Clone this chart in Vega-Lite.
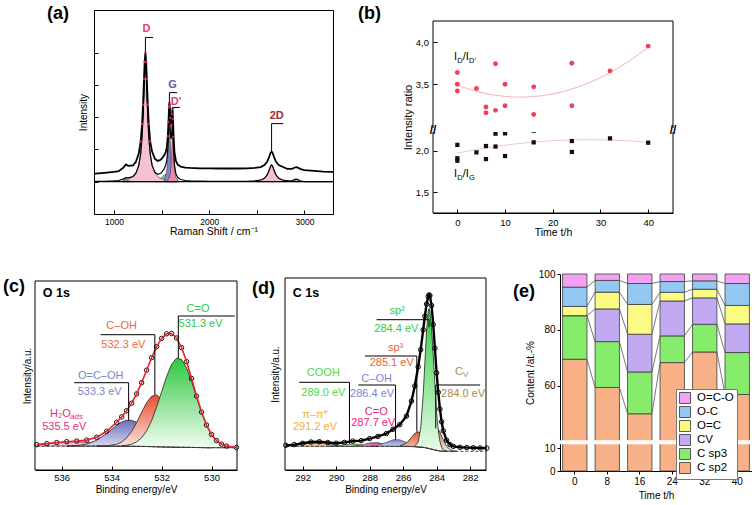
{
"padding": {"left": 3, "top": 4, "right": 0, "bottom": 0},
"background": "white",
"config": {
 "font": "Liberation Sans",
 "view": {"stroke": "black", "strokeWidth": 1},
 "axis": {"domainColor": "black", "domainWidth": 1, "tickColor": "black", "tickWidth": 1, "labelColor": "black", "titleColor": "black", "titleFontWeight": "normal", "grid": false, "labelFontSize": 9, "titleFontSize": 10},
 "title": {"fontSize": 18, "fontWeight": "bold", "anchor": "start", "frame": "group", "baseline": "alphabetic", "color": "black"},
 "text": {"font": "Liberation Sans"}
},
"datasets": {
 "raman": [
  {"x":800,"u":1.25,"l":1.01},{"x":900,"u":1.275,"l":1.015},{"x":1000,"u":1.306,"l":1.026},{"x":1050,"u":1.327,"l":1.037},{"x":1100,"u":1.439,"l":1.089},{"x":1125,"u":1.536,"l":1.126},{"x":1150,"u":1.491,"l":1.121},{"x":1200,"u":1.503,"l":1.163},{"x":1230,"u":1.616,"l":1.266},{"x":1260,"u":1.872,"l":1.502},{"x":1280,"u":2.244,"l":1.864},{"x":1295,"u":2.791,"l":2.411},{"x":1305,"u":3.389,"l":3.009},{"x":1315,"u":4.183,"l":3.803},{"x":1322,"u":4.714,"l":4.334},{"x":1330,"u":4.99,"l":4.61},{"x":1338,"u":4.715,"l":4.335},{"x":1345,"u":4.185,"l":3.805},{"x":1355,"u":3.393,"l":3.013},{"x":1365,"u":2.796,"l":2.416},{"x":1380,"u":2.252,"l":1.872},{"x":1400,"u":1.933,"l":1.513},{"x":1430,"u":1.71,"l":1.29},{"x":1460,"u":1.646,"l":1.226},{"x":1490,"u":1.681,"l":1.261},{"x":1510,"u":1.746,"l":1.326},{"x":1530,"u":1.837,"l":1.417},{"x":1545,"u":1.929,"l":1.529},{"x":1555,"u":2.079,"l":1.679},{"x":1565,"u":2.406,"l":2.006},{"x":1572,"u":2.85,"l":2.45},{"x":1578,"u":3.307,"l":2.907},{"x":1582,"u":3.451,"l":3.051},{"x":1586,"u":3.349,"l":2.949},{"x":1592,"u":2.974,"l":2.574},{"x":1598,"u":2.729,"l":2.329},{"x":1604,"u":2.77,"l":2.37},{"x":1610,"u":3.096,"l":2.696},{"x":1615,"u":3.259,"l":2.859},{"x":1620,"u":2.934,"l":2.534},{"x":1626,"u":2.382,"l":1.982},{"x":1635,"u":1.919,"l":1.519},{"x":1650,"u":1.646,"l":1.246},{"x":1670,"u":1.529,"l":1.129},{"x":1700,"u":1.469,"l":1.069},{"x":1750,"u":1.438,"l":1.038},{"x":1800,"u":1.426,"l":1.026},{"x":1900,"u":1.416,"l":1.016},{"x":2000,"u":1.412,"l":1.012},{"x":2100,"u":1.41,"l":1.01},{"x":2200,"u":1.409,"l":1.009},{"x":2300,"u":1.41,"l":1.01},{"x":2400,"u":1.415,"l":1.015},{"x":2480,"u":1.426,"l":1.026},{"x":2540,"u":1.454,"l":1.054},{"x":2580,"u":1.517,"l":1.107},{"x":2610,"u":1.627,"l":1.217},{"x":2630,"u":1.774,"l":1.364},{"x":2645,"u":1.897,"l":1.487},{"x":2655,"u":1.931,"l":1.521},{"x":2665,"u":1.897,"l":1.487},{"x":2680,"u":1.774,"l":1.364},{"x":2700,"u":1.627,"l":1.217},{"x":2730,"u":1.517,"l":1.107},{"x":2770,"u":1.462,"l":1.052},{"x":2820,"u":1.397,"l":1.027},{"x":2870,"u":1.4,"l":1.03},{"x":2900,"u":1.441,"l":1.071},{"x":2915,"u":1.451,"l":1.081},{"x":2930,"u":1.438,"l":1.068},{"x":2960,"u":1.392,"l":1.022},{"x":3000,"u":1.356,"l":1.006},{"x":3100,"u":1.334,"l":1.004},{"x":3200,"u":1.313,"l":1.003},{"x":3300,"u":1.302,"l":1.002}
 ],
 "ramanPeaks": [
  {"p":"Gr","x":1430,"v":1.008},{"p":"Gr","x":1460,"v":1.037},{"p":"Gr","x":1490,"v":1.104},{"p":"Gr","x":1510,"v":1.163},{"p":"Gr","x":1530,"v":1.208},{"p":"Gr","x":1545,"v":1.22},{"p":"Gr","x":1555,"v":1.215},{"p":"Gr","x":1565,"v":1.199},{"p":"Gr","x":1578,"v":1.168},{"p":"Gr","x":1592,"v":1.128},{"p":"Gr","x":1604,"v":1.093},{"p":"Gr","x":1615,"v":1.066},{"p":"Gr","x":1635,"v":1.03},{"p":"Gr","x":1650,"v":1.015},{"p":"Gr","x":1670,"v":1.005},
  {"p":"D","x":1100,"v":1.053},{"p":"D","x":1150,"v":1.085},{"p":"D","x":1200,"v":1.159},{"p":"D","x":1230,"v":1.262},{"p":"D","x":1260,"v":1.497},{"p":"D","x":1280,"v":1.859},{"p":"D","x":1295,"v":2.405},{"p":"D","x":1305,"v":3.003},{"p":"D","x":1315,"v":3.797},{"p":"D","x":1322,"v":4.328},{"p":"D","x":1330,"v":4.6},{"p":"D","x":1338,"v":4.328},{"p":"D","x":1345,"v":3.797},{"p":"D","x":1355,"v":3.003},{"p":"D","x":1365,"v":2.405},{"p":"D","x":1380,"v":1.859},{"p":"D","x":1400,"v":1.497},{"p":"D","x":1430,"v":1.262},{"p":"D","x":1460,"v":1.159},{"p":"D","x":1490,"v":1.107},{"p":"D","x":1530,"v":1.069},{"p":"D","x":1560,"v":1.05},
  {"p":"G","x":1530,"v":1.115},{"p":"G","x":1545,"v":1.213},{"p":"G","x":1555,"v":1.36},{"p":"G","x":1565,"v":1.687},{"p":"G","x":1572,"v":2.126},{"p":"G","x":1578,"v":2.572},{"p":"G","x":1582,"v":2.7},{"p":"G","x":1586,"v":2.572},{"p":"G","x":1592,"v":2.126},{"p":"G","x":1598,"v":1.737},{"p":"G","x":1604,"v":1.49},{"p":"G","x":1610,"v":1.34},{"p":"G","x":1620,"v":1.203},{"p":"G","x":1635,"v":1.111},{"p":"G","x":1650,"v":1.069},
  {"p":"Dp","x":1565,"v":1.069},{"p":"Dp","x":1578,"v":1.122},{"p":"Dp","x":1586,"v":1.189},{"p":"Dp","x":1592,"v":1.279},{"p":"Dp","x":1598,"v":1.443},{"p":"Dp","x":1604,"v":1.75},{"p":"Dp","x":1610,"v":2.243},{"p":"Dp","x":1615,"v":2.5},{"p":"Dp","x":1620,"v":2.243},{"p":"Dp","x":1626,"v":1.75},{"p":"Dp","x":1635,"v":1.348},{"p":"Dp","x":1650,"v":1.135},{"p":"Dp","x":1670,"v":1.058},
  {"p":"2D","x":2480,"v":1.023},{"p":"2D","x":2540,"v":1.051},{"p":"2D","x":2580,"v":1.106},{"p":"2D","x":2610,"v":1.216},{"p":"2D","x":2630,"v":1.363},{"p":"2D","x":2645,"v":1.486},{"p":"2D","x":2655,"v":1.52},{"p":"2D","x":2665,"v":1.486},{"p":"2D","x":2680,"v":1.363},{"p":"2D","x":2700,"v":1.216},{"p":"2D","x":2730,"v":1.106},{"p":"2D","x":2770,"v":1.051},{"p":"2D","x":2830,"v":1.023},
  {"p":"b1","x":1075,"v":1.005},{"p":"b1","x":1100,"v":1.036},{"p":"b1","x":1125,"v":1.06},{"p":"b1","x":1150,"v":1.036},{"p":"b1","x":1175,"v":1.005},
  {"p":"b2","x":2865,"v":1.008},{"p":"b2","x":2890,"v":1.042},{"p":"b2","x":2915,"v":1.07},{"p":"b2","x":2940,"v":1.042},{"p":"b2","x":2965,"v":1.008}
 ],
 "ramanBr": [{"x":1330,"y0":4.99,"y1":5.47,"xe":1411},{"x":1582,"y0":3.45,"y1":3.76,"xe":1663},{"x":1615,"y0":3.26,"y1":3.3,"xe":1692},{"x":2655,"y0":1.93,"y1":2.8,"xe":2779}],
 "ramanLab": [{"lab":"D","x":1341,"y":5.74},{"lab":"G","x":1615,"y":4.0},{"lab":"D'","x":1651,"y":3.47},{"lab":"2D","x":2709,"y":3.04}],
 "rDDp": [{"t":0,"r":3.64},{"t":0,"r":3.5},{"t":0,"r":3.42},{"t":4,"r":3.45},{"t":6,"r":3.23},{"t":6,"r":3.16},{"t":8,"r":3.745},{"t":8,"r":3.19},{"t":10,"r":3.5},{"t":10,"r":3.245},{"t":16,"r":3.47},{"t":16,"r":3.14},{"t":24,"r":3.75},{"t":24,"r":3.245},{"t":32,"r":3.66},{"t":40,"r":3.955}],
 "rDG": [{"t":0,"r":2.07},{"t":0,"r":1.91},{"t":0,"r":1.88},{"t":4,"r":1.98},{"t":6,"r":2.056},{"t":6,"r":1.9},{"t":8,"r":2.204},{"t":8,"r":2.05},{"t":10,"r":2.208},{"t":10,"r":1.936},{"t":16,"r":2.24},{"t":16,"r":2.1},{"t":24,"r":2.116},{"t":24,"r":1.985},{"t":32,"r":2.148},{"t":40,"r":2.096}],
 "fDDp": [{"t":0,"r":3.49},{"t":2,"r":3.45},{"t":4,"r":3.417},{"t":6,"r":3.389},{"t":8,"r":3.369},{"t":10,"r":3.356},{"t":12,"r":3.348},{"t":14,"r":3.348},{"t":16,"r":3.354},{"t":18,"r":3.366},{"t":20,"r":3.386},{"t":22,"r":3.411},{"t":24,"r":3.444},{"t":26,"r":3.483},{"t":28,"r":3.528},{"t":30,"r":3.58},{"t":32,"r":3.639},{"t":34,"r":3.704},{"t":36,"r":3.776},{"t":38,"r":3.855},{"t":40,"r":3.94}],
 "fDG": [{"t":0,"r":1.97},{"t":4,"r":2.014},{"t":8,"r":2.05},{"t":12,"r":2.08},{"t":16,"r":2.104},{"t":20,"r":2.12},{"t":24,"r":2.13},{"t":28,"r":2.132},{"t":32,"r":2.128},{"t":36,"r":2.118},{"t":40,"r":2.1}],
 "o1s": [
  {"e":537.0,"env":3.06,"bg":1.6},{"e":536.6,"env":4.06,"bg":1.6},{"e":536.2,"env":5.14,"bg":1.6},{"e":535.8,"env":6.0,"bg":1.6},{"e":535.4,"env":6.6,"bg":1.6},{"e":535.0,"env":7.56,"bg":1.6},{"e":534.6,"env":10.42,"bg":1.6},{"e":534.2,"env":16.46,"bg":1.6},{"e":533.8,"env":25.4,"bg":1.6},{"e":533.6,"env":30.8,"bg":1.6},{"e":533.4,"env":37.0,"bg":1.6},{"e":533.2,"env":44.5,"bg":1.5},{"e":533.0,"env":53.8,"bg":1.4},{"e":532.8,"env":65.0,"bg":1.3},{"e":532.6,"env":77.5,"bg":1.2},{"e":532.4,"env":90.0,"bg":1.1},{"e":532.2,"env":101.1,"bg":1.0},{"e":532.0,"env":109.3,"bg":0.9},{"e":531.8,"env":113.9,"bg":0.8},{"e":531.6,"env":114.2,"bg":0.7},{"e":531.4,"env":109.7,"bg":0.6},{"e":531.2,"env":100.1,"bg":0.5},{"e":531.0,"env":86.1,"bg":0.4},{"e":530.8,"env":69.2,"bg":0.3},{"e":530.6,"env":51.6,"bg":0.2},{"e":530.4,"env":35.65,"bg":0.1},{"e":530.2,"env":22.65,"bg":0},{"e":530.0,"env":13.25,"bg":0},{"e":529.8,"env":7.1,"bg":0},{"e":529.6,"env":3.5,"bg":0},{"e":529.4,"env":1.6,"bg":0},{"e":529.0,"env":0.25,"bg":0}
 ],
 "o1sComp": [
  {"c":"H2O","e":537.0,"b":1.6,"v":3.06},{"c":"H2O","e":536.6,"b":1.6,"v":4.06},{"c":"H2O","e":536.2,"b":1.6,"v":5.12},{"c":"H2O","e":535.8,"b":1.6,"v":5.9},{"c":"H2O","e":535.4,"b":1.6,"v":6.08},{"c":"H2O","e":535.0,"b":1.6,"v":5.57},{"c":"H2O","e":534.6,"b":1.6,"v":4.6},{"c":"H2O","e":534.2,"b":1.6,"v":3.54},{"c":"H2O","e":533.8,"b":1.6,"v":2.66},{"c":"H2O","e":533.4,"b":1.6,"v":2.1},{"c":"H2O","e":533.0,"b":1.4,"v":1.6},
  {"c":"OCOH","e":535.8,"b":1.6,"v":1.7},{"c":"OCOH","e":535.4,"b":1.6,"v":2.12},{"c":"OCOH","e":535.0,"b":1.6,"v":3.59},{"c":"OCOH","e":534.6,"b":1.6,"v":7.39},{"c":"OCOH","e":534.2,"b":1.6,"v":14.26},{"c":"OCOH","e":533.8,"b":1.6,"v":22.4},{"c":"OCOH","e":533.6,"b":1.6,"v":25.6},{"c":"OCOH","e":533.4,"b":1.6,"v":27.4},{"c":"OCOH","e":533.2,"b":1.5,"v":27.3},{"c":"OCOH","e":533.0,"b":1.4,"v":25.4},{"c":"OCOH","e":532.8,"b":1.3,"v":22.1},{"c":"OCOH","e":532.6,"b":1.2,"v":18.0},{"c":"OCOH","e":532.4,"b":1.1,"v":13.76},{"c":"OCOH","e":532.2,"b":1.0,"v":9.87},{"c":"OCOH","e":532.0,"b":0.9,"v":6.69},{"c":"OCOH","e":531.8,"b":0.8,"v":4.31},{"c":"OCOH","e":531.6,"b":0.7,"v":2.69},{"c":"OCOH","e":531.4,"b":0.6,"v":1.65},{"c":"OCOH","e":531.2,"b":0.5,"v":1.02},{"c":"OCOH","e":531.0,"b":0.4,"v":0.64},
  {"c":"COH","e":534.6,"b":1.6,"v":1.63},{"c":"COH","e":534.2,"b":1.6,"v":1.86},{"c":"COH","e":533.8,"b":1.6,"v":3.45},{"c":"COH","e":533.6,"b":1.6,"v":5.73},{"c":"COH","e":533.4,"b":1.6,"v":9.86},{"c":"COH","e":533.2,"b":1.5,"v":16.35},{"c":"COH","e":533.0,"b":1.4,"v":25.2},{"c":"COH","e":532.8,"b":1.3,"v":35.4},{"c":"COH","e":532.6,"b":1.2,"v":45.0},{"c":"COH","e":532.4,"b":1.1,"v":51.4},{"c":"COH","e":532.2,"b":1.0,"v":52.75},{"c":"COH","e":532.0,"b":0.9,"v":48.5},{"c":"COH","e":531.8,"b":0.8,"v":40.0},{"c":"COH","e":531.6,"b":0.7,"v":29.6},{"c":"COH","e":531.4,"b":0.6,"v":19.7},{"c":"COH","e":531.2,"b":0.5,"v":11.75},{"c":"COH","e":531.0,"b":0.4,"v":6.32},{"c":"COH","e":530.8,"b":0.3,"v":3.09},{"c":"COH","e":530.6,"b":0.2,"v":1.39},{"c":"COH","e":530.4,"b":0.1,"v":0.55},{"c":"COH","e":530.2,"b":0,"v":0.15},{"c":"COH","e":530.0,"b":0,"v":0.05},
  {"c":"CO","e":533.6,"b":1.6,"v":1.95},{"c":"CO","e":533.4,"b":1.6,"v":2.47},{"c":"CO","e":533.2,"b":1.5,"v":3.54},{"c":"CO","e":533.0,"b":1.4,"v":5.78},{"c":"CO","e":532.8,"b":1.3,"v":9.94},{"c":"CO","e":532.6,"b":1.2,"v":16.8},{"c":"CO","e":532.4,"b":1.1,"v":27.0},{"c":"CO","e":532.2,"b":1.0,"v":40.5},{"c":"CO","e":532.0,"b":0.9,"v":55.9},{"c":"CO","e":531.8,"b":0.8,"v":71.2},{"c":"CO","e":531.6,"b":0.7,"v":83.3},{"c":"CO","e":531.4,"b":0.6,"v":89.5},{"c":"CO","e":531.2,"b":0.5,"v":88.3},{"c":"CO","e":531.0,"b":0.4,"v":79.9},{"c":"CO","e":530.8,"b":0.3,"v":66.3},{"c":"CO","e":530.6,"b":0.2,"v":50.4},{"c":"CO","e":530.4,"b":0.1,"v":35.2},{"c":"CO","e":530.2,"b":0,"v":22.5},{"c":"CO","e":530.0,"b":0,"v":13.2},{"c":"CO","e":529.8,"b":0,"v":7.1},{"c":"CO","e":529.6,"b":0,"v":3.5},{"c":"CO","e":529.4,"b":0,"v":1.6},{"c":"CO","e":529.0,"b":0,"v":0.25}
 ],
 "o1sBr": [{"e":531.33,"y0":89.5,"y1":131.7,"ee":529.07},{"e":532.27,"y0":52.8,"y1":113,"ee":534.44},{"e":533.32,"y0":27.4,"y1":65,"ee":535.5}],
 "o1sLab": [{"t":"C=O","e":530.54,"y":138.4,"k":"CO"},{"t":"531.3 eV","e":530.44,"y":123.4,"k":"CO"},{"t":"C–OH","e":533.6,"y":121.5,"k":"COH"},{"t":"532.3 eV","e":533.53,"y":102.5,"k":"COH"},{"t":"O=C–OH","e":534.44,"y":71.3,"k":"OCOH"},{"t":"533.3 eV","e":534.48,"y":56,"k":"OCOH"},{"t":"535.5 eV","e":535.9,"y":21,"k":"H2O"}],
 "c1s": [
  {"e":293.0,"env":5.97,"bg":5},{"e":292.5,"env":6.71,"bg":5},{"e":292.0,"env":8.0,"bg":5},{"e":291.5,"env":9.27,"bg":5},{"e":291.0,"env":9.56,"bg":5},{"e":290.5,"env":8.78,"bg":5},{"e":290.0,"env":8.11,"bg":5},{"e":289.5,"env":8.9,"bg":5},{"e":289.0,"env":10.21,"bg":5},{"e":288.5,"env":10.7,"bg":5},{"e":288.0,"env":12.68,"bg":5},{"e":287.5,"env":14.89,"bg":5},{"e":287.0,"env":17.71,"bg":5},{"e":286.6,"env":22.02,"bg":5},{"e":286.2,"env":26.63,"bg":5},{"e":285.8,"env":35.21,"bg":5},{"e":285.5,"env":50.24,"bg":4.8},{"e":285.3,"env":65.37,"bg":4.6},{"e":285.1,"env":84.49,"bg":4.5},{"e":284.95,"env":101.57,"bg":4.2},{"e":284.8,"env":121.5,"bg":4.0},{"e":284.7,"env":135.07,"bg":3.7},{"e":284.6,"env":147.14,"bg":3.4},{"e":284.5,"env":154.79,"bg":3.0},{"e":284.45,"env":156.42,"bg":2.8},{"e":284.4,"env":155.7,"bg":2.6},{"e":284.3,"env":145.73,"bg":2.2},{"e":284.2,"env":126.79,"bg":1.8},{"e":284.1,"env":102.96,"bg":1.4},{"e":284.0,"env":78.54,"bg":1.0},{"e":283.9,"env":58.9,"bg":0.7},{"e":283.8,"env":42.3,"bg":0.4},{"e":283.7,"env":29.5,"bg":0.2},{"e":283.6,"env":20.5,"bg":0},{"e":283.4,"env":11.0,"bg":0},{"e":283.2,"env":6.7,"bg":0},{"e":283.0,"env":4.9,"bg":0},{"e":282.6,"env":4.0,"bg":0},{"e":282.2,"env":3.7,"bg":0},{"e":281.8,"env":3.5,"bg":0},{"e":281.4,"env":3.3,"bg":0},{"e":281.0,"env":3.2,"bg":0}
 ],
 "c1sComp": [
  {"c":"pi","e":293.0,"b":5,"v":5.28},{"c":"pi","e":292.5,"b":5,"v":5.94},{"c":"pi","e":292.0,"b":5,"v":7.12},{"c":"pi","e":291.5,"b":5,"v":8.26},{"c":"pi","e":291.0,"b":5,"v":8.39},{"c":"pi","e":290.5,"b":5,"v":7.39},{"c":"pi","e":290.0,"b":5,"v":6.14},{"c":"pi","e":289.5,"b":5,"v":5.37},{"c":"pi","e":289.0,"b":5,"v":5.08},
  {"c":"COOH","e":290.5,"b":5,"v":5.03},{"c":"COOH","e":290.0,"b":5,"v":5.35},{"c":"COOH","e":289.5,"b":5,"v":6.58},{"c":"COOH","e":289.0,"b":5,"v":7.6},{"c":"COOH","e":288.5,"b":5,"v":6.58},{"c":"COOH","e":288.0,"b":5,"v":5.35},{"c":"COOH","e":287.5,"b":5,"v":5.03},
  {"c":"CO","e":289.0,"b":5,"v":5.14},{"c":"CO","e":288.5,"b":5,"v":6.11},{"c":"CO","e":288.0,"b":5,"v":8.34},{"c":"CO","e":287.5,"b":5,"v":8.69},{"c":"CO","e":287.0,"b":5,"v":6.5},{"c":"CO","e":286.6,"b":5,"v":5.36},{"c":"CO","e":286.2,"b":5,"v":5.04},
  {"c":"COH","e":288.0,"b":5,"v":5.1},{"c":"COH","e":287.5,"b":5,"v":5.95},{"c":"COH","e":287.0,"b":5,"v":8.86},{"c":"COH","e":286.6,"b":5,"v":11.55},{"c":"COH","e":286.2,"b":5,"v":11.55},{"c":"COH","e":285.8,"b":5,"v":8.86},{"c":"COH","e":285.5,"b":4.8,"v":6.64},{"c":"COH","e":285.3,"b":4.6,"v":5.55},{"c":"COH","e":285.1,"b":4.5,"v":4.93},{"c":"COH","e":284.8,"b":4.0,"v":4.1},
  {"c":"sp3","e":286.2,"b":5,"v":5.34},{"c":"sp3","e":285.8,"b":5,"v":8.25},{"c":"sp3","e":285.5,"b":4.8,"v":13.9},{"c":"sp3","e":285.3,"b":4.6,"v":17.8},{"c":"sp3","e":285.1,"b":4.5,"v":19.5},{"c":"sp3","e":284.95,"b":4.2,"v":18.2},{"c":"sp3","e":284.8,"b":4.0,"v":15.3},{"c":"sp3","e":284.7,"b":3.7,"v":12.8},{"c":"sp3","e":284.6,"b":3.4,"v":10.27},{"c":"sp3","e":284.5,"b":3.0,"v":7.87},{"c":"sp3","e":284.4,"b":2.6,"v":5.85},{"c":"sp3","e":284.3,"b":2.2,"v":4.23},{"c":"sp3","e":284.2,"b":1.8,"v":2.99},{"c":"sp3","e":284.1,"b":1.4,"v":2.06},{"c":"sp3","e":284.0,"b":1.0,"v":1.34},{"c":"sp3","e":283.9,"b":0.7,"v":0.87},{"c":"sp3","e":283.8,"b":0.4,"v":0.48},
  {"c":"Cv","e":285.1,"b":4.5,"v":4.66},{"c":"Cv","e":284.95,"b":4.2,"v":4.75},{"c":"Cv","e":284.8,"b":4.0,"v":5.61},{"c":"Cv","e":284.7,"b":3.7,"v":6.67},{"c":"Cv","e":284.6,"b":3.4,"v":8.47},{"c":"Cv","e":284.5,"b":3.0,"v":10.92},{"c":"Cv","e":284.4,"b":2.6,"v":14.05},{"c":"Cv","e":284.3,"b":2.2,"v":17.4},{"c":"Cv","e":284.2,"b":1.8,"v":20.5},{"c":"Cv","e":284.1,"b":1.4,"v":22.5},{"c":"Cv","e":284.0,"b":1.0,"v":23.0},{"c":"Cv","e":283.9,"b":0.7,"v":21.8},{"c":"Cv","e":283.8,"b":0.4,"v":19.1},{"c":"Cv","e":283.7,"b":0.2,"v":15.4},{"c":"Cv","e":283.6,"b":0,"v":11.45},{"c":"Cv","e":283.4,"b":0,"v":5.07},{"c":"Cv","e":283.2,"b":0,"v":1.61},{"c":"Cv","e":283.0,"b":0,"v":0.37},{"c":"Cv","e":282.8,"b":0,"v":0.05},
  {"c":"sp2","e":285.3,"b":4.6,"v":5.0},{"c":"sp2","e":285.1,"b":4.5,"v":9.3},{"c":"sp2","e":284.95,"b":4.2,"v":23.1},{"c":"sp2","e":284.8,"b":4.0,"v":56.5},{"c":"sp2","e":284.7,"b":3.7,"v":88.7},{"c":"sp2","e":284.6,"b":3.4,"v":120.3},{"c":"sp2","e":284.5,"b":3.0,"v":140.2},{"c":"sp2","e":284.45,"b":2.8,"v":142.8},{"c":"sp2","e":284.4,"b":2.6,"v":140.4},{"c":"sp2","e":284.3,"b":2.2,"v":123.6},{"c":"sp2","e":284.2,"b":1.8,"v":95.8},{"c":"sp2","e":284.1,"b":1.4,"v":65.6},{"c":"sp2","e":284.0,"b":1.0,"v":39.5},{"c":"sp2","e":283.9,"b":0.7,"v":21.1},{"c":"sp2","e":283.8,"b":0.4,"v":9.9},{"c":"sp2","e":283.7,"b":0.2,"v":4.1},{"c":"sp2","e":283.6,"b":0,"v":1.4},{"c":"sp2","e":283.4,"b":0,"v":0.1}
 ],
 "c1sBr": [{"e":284.45,"y0":124,"y1":131.6,"ee":287.58},{"e":285.18,"y0":19.5,"y1":95.3,"ee":288.27},{"e":286.45,"y0":11.6,"y1":66.3,"ee":288.67},{"e":289.2,"y0":7.6,"y1":69,"ee":292.2},{"e":284.05,"y0":23,"y1":66.3,"ee":281.4}],
 "c1sLab": [{"t":"sp²","e":286.35,"y":140,"k":"sp2"},{"t":"284.4 eV","e":286.4,"y":122,"k":"sp2"},{"t":"sp³","e":286.45,"y":103,"k":"sp3"},{"t":"285.1 eV","e":286.68,"y":88,"k":"sp3"},{"t":"C–OH","e":287.58,"y":72,"k":"COH"},{"t":"286.4 eV","e":287.85,"y":57.3,"k":"COH"},{"t":"COOH","e":290.76,"y":78,"k":"COOH"},{"t":"289.0 eV","e":290.76,"y":58,"k":"COOH"},{"t":"C=O","e":287.6,"y":39.6,"k":"CO"},{"t":"287.7 eV","e":287.78,"y":28,"k":"CO"},{"t":"π–π*","e":291.26,"y":36.3,"k":"pi"},{"t":"291.2 eV","e":291.26,"y":24,"k":"pi"},{"t":"284.0 eV","e":282.42,"y":57.3,"k":"Cv"}],
 "xps": [
  {"t":0,"comp":"C sp2","v":69.5,"k":1},{"t":0,"comp":"C sp3","v":15.6,"k":2},{"t":0,"comp":"CV","v":0,"k":3},{"t":0,"comp":"O=C","v":3.3,"k":4},{"t":0,"comp":"O-C","v":6.9,"k":5},{"t":0,"comp":"O=C-O","v":4.7,"k":6},
  {"t":8,"comp":"C sp2","v":59.4,"k":1},{"t":8,"comp":"C sp3","v":16.4,"k":2},{"t":8,"comp":"CV","v":11.7,"k":3},{"t":8,"comp":"O=C","v":6.0,"k":4},{"t":8,"comp":"O-C","v":4.2,"k":5},{"t":8,"comp":"O=C-O","v":2.3,"k":6},
  {"t":16,"comp":"C sp2","v":50.0,"k":1},{"t":16,"comp":"C sp3","v":14.95,"k":2},{"t":16,"comp":"CV","v":13.5,"k":3},{"t":16,"comp":"O=C","v":10.65,"k":4},{"t":16,"comp":"O-C","v":7.5,"k":5},{"t":16,"comp":"O=C-O","v":3.4,"k":6},
  {"t":24,"comp":"C sp2","v":68.3,"k":1},{"t":24,"comp":"C sp3","v":9.55,"k":2},{"t":24,"comp":"CV","v":12.5,"k":3},{"t":24,"comp":"O=C","v":3.1,"k":4},{"t":24,"comp":"O-C","v":3.85,"k":5},{"t":24,"comp":"O=C-O","v":2.7,"k":6},
  {"t":32,"comp":"C sp2","v":72.1,"k":1},{"t":32,"comp":"C sp3","v":9.9,"k":2},{"t":32,"comp":"CV","v":9.45,"k":3},{"t":32,"comp":"O=C","v":3.1,"k":4},{"t":32,"comp":"O-C","v":3.0,"k":5},{"t":32,"comp":"O=C-O","v":2.45,"k":6},
  {"t":40,"comp":"C sp2","v":56.9,"k":1},{"t":40,"comp":"C sp3","v":15.0,"k":2},{"t":40,"comp":"CV","v":10.25,"k":3},{"t":40,"comp":"O=C","v":6.6,"k":4},{"t":40,"comp":"O-C","v":7.85,"k":5},{"t":40,"comp":"O=C-O","v":3.4,"k":6}
 ],
 "xpsLinks": [
  {"t0":0,"t1":8,"y0":69.5,"y1":59.4},{"t0":0,"t1":8,"y0":85.1,"y1":75.8},{"t0":0,"t1":8,"y0":85.1,"y1":87.5},{"t0":0,"t1":8,"y0":88.4,"y1":93.5},{"t0":0,"t1":8,"y0":95.3,"y1":97.7},
  {"t0":8,"t1":16,"y0":59.4,"y1":50.0},{"t0":8,"t1":16,"y0":75.8,"y1":64.95},{"t0":8,"t1":16,"y0":87.5,"y1":78.45},{"t0":8,"t1":16,"y0":93.5,"y1":89.1},{"t0":8,"t1":16,"y0":97.7,"y1":96.6},
  {"t0":16,"t1":24,"y0":50.0,"y1":68.3},{"t0":16,"t1":24,"y0":64.95,"y1":77.85},{"t0":16,"t1":24,"y0":78.45,"y1":90.35},{"t0":16,"t1":24,"y0":89.1,"y1":93.45},{"t0":16,"t1":24,"y0":96.6,"y1":97.3},
  {"t0":24,"t1":32,"y0":68.3,"y1":72.1},{"t0":24,"t1":32,"y0":77.85,"y1":82.0},{"t0":24,"t1":32,"y0":90.35,"y1":91.45},{"t0":24,"t1":32,"y0":93.45,"y1":94.55},{"t0":24,"t1":32,"y0":97.3,"y1":97.55},
  {"t0":32,"t1":40,"y0":72.1,"y1":56.9},{"t0":32,"t1":40,"y0":82.0,"y1":71.9},{"t0":32,"t1":40,"y0":91.45,"y1":82.15},{"t0":32,"t1":40,"y0":94.55,"y1":88.75},{"t0":32,"t1":40,"y0":97.55,"y1":96.6}
 ]
},
"resolve": {"scale": {"color": "independent"}},
"spacing": 30,
"vconcat": [
 {"hconcat": [
  {"data": {"values": [{}]}, "mark": {"type": "text", "text": ""}, "width": 59, "height": 1, "view": {"stroke": null}},
  {"width": 239, "height": 204,
   "title": {"text": "(a)", "dx": -47, "offset": -13},
   "resolve": {"scale": {"color": "independent"}},
   "layer": [
    {"data": {"name": "ramanPeaks"}, "mark": {"type": "area", "stroke": "#333", "strokeWidth": 0.6},
     "encoding": {
      "x": {"field": "x", "type": "quantitative", "scale": {"domain": [790, 3300], "nice": false, "zero": false}, "axis": {"values": [1000,1500,2000,2500,3000], "labelExpr": "datum.value % 1000 == 0 ? datum.label : ''", "format": "d", "title": "Raman Shift / cm⁻¹", "tickSize": -4, "labelPadding": 7, "labelFontSize": 8.5, "titleFontSize": 10.5, "titlePadding": 1}},
      "y": {"field": "v", "type": "quantitative", "stack": null, "scale": {"domain": [0, 6.32], "nice": false, "zero": false}, "axis": {"values": [1,2,3,4,5], "labels": false, "tickSize": -4, "title": "Intensity", "titlePadding": 5, "titleFontSize": 10}},
      "y2": {"datum": 1},
      "color": {"field": "p", "type": "nominal", "scale": {"domain": ["Gr","D","G","Dp","2D","b1","b2"], "range": ["#8ee28a","#f6c2cf","#7f86d6","#ee88a6","#f4c0cb","#d8b48c","#d8b48c"]}, "legend": null}
     }},
    {"data": {"name": "raman"}, "mark": {"type": "line", "color": "black", "strokeWidth": 1.2},
     "encoding": {"x": {"field": "x", "type": "quantitative"}, "y": {"field": "l", "type": "quantitative"}}},
    {"data": {"name": "raman"}, "mark": {"type": "line", "color": "black", "strokeWidth": 1.8},
     "encoding": {"x": {"field": "x", "type": "quantitative"}, "y": {"field": "u", "type": "quantitative"}}},
    {"data": {"name": "raman"}, "transform": [{"filter": "(datum.x >= 1280 && datum.x <= 1380) || (datum.x >= 1565 && datum.x <= 1626)"}], "mark": {"type": "circle", "color": "#e8336e", "size": 6, "opacity": 0.8},
     "encoding": {"x": {"field": "x", "type": "quantitative"}, "y": {"field": "u", "type": "quantitative"}}},
    {"data": {"values": [{}]}, "mark": {"type": "rule", "color": "black", "strokeWidth": 1.2},
     "encoding": {"y": {"datum": 1, "type": "quantitative"}}},
    {"data": {"name": "ramanBr"}, "mark": {"type": "rule", "color": "black", "strokeWidth": 1},
     "encoding": {"x": {"field": "x", "type": "quantitative"}, "y": {"field": "y0", "type": "quantitative"}, "y2": {"field": "y1"}}},
    {"data": {"name": "ramanBr"}, "mark": {"type": "rule", "color": "black", "strokeWidth": 1},
     "encoding": {"x": {"field": "x", "type": "quantitative"}, "x2": {"field": "xe"}, "y": {"field": "y1", "type": "quantitative"}}},
    {"data": {"name": "ramanLab"}, "mark": {"type": "text", "fontSize": 11, "fontWeight": "bold", "align": "center", "baseline": "middle"},
     "encoding": {"x": {"field": "x", "type": "quantitative"}, "y": {"field": "y", "type": "quantitative"}, "text": {"field": "lab"},
      "color": {"field": "lab", "type": "nominal", "scale": {"domain": ["D","G","D'","2D"], "range": ["#ec3a72","#5a5ea8","#e0407a","#a02a40"]}, "legend": null}}}
   ]},
  {"data": {"values": [{}]}, "mark": {"type": "text", "text": ""}, "width": 100, "height": 1, "view": {"stroke": null}},
  {"width": 240, "height": 203,
   "view": {"stroke": null},
   "title": {"text": "(b)", "dx": -75, "offset": -13},
   "layer": [
    {"data": {"name": "fDDp"}, "mark": {"type": "line", "color": "#f4b2bf", "strokeWidth": 1},
     "encoding": {
      "x": {"field": "t", "type": "quantitative", "scale": {"domain": [-5.1, 45.2], "nice": false, "zero": false}, "axis": {"values": [0,5,10,15,20,25,30,35,40], "labelExpr": "datum.value % 10 == 0 ? datum.label : ''", "title": "Time t/h", "tickSize": -4, "labelPadding": 8, "labelFontSize": 9.5, "titleFontSize": 10.5, "titlePadding": 1}},
      "y": {"field": "r", "type": "quantitative", "scale": {"domain": [1.254, 2.248, 2.956, 4.254], "range": [203, 120, 120, 11], "nice": false, "zero": false}, "axis": {"values": [1.5, 1.75, 2, 3.25, 3.5, 3.75, 4], "labelExpr": "datum.value == 1.5 ? '1,5' : datum.value == 2 ? '2,0' : datum.value == 3.5 ? '3,5' : datum.value == 4 ? '4,0' : ''", "title": "Intensity ratio", "domain": false, "tickSize": -4, "labelPadding": 8.5, "labelFontSize": 9.5, "titleFontSize": 11, "titlePadding": 2}}
     }},
    {"data": {"values": [{}]}, "mark": {"type": "rect", "fillOpacity": 0, "stroke": "black", "strokeWidth": 1},
     "encoding": {"x": {"datum": -5.1, "type": "quantitative"}, "x2": {"datum": 45.2}, "y": {"datum": 1.254, "type": "quantitative"}, "y2": {"datum": 4.254}}},
    {"data": {"name": "fDG"}, "mark": {"type": "line", "color": "#f7c4cc", "strokeWidth": 1},
     "encoding": {"x": {"field": "t", "type": "quantitative"}, "y": {"field": "r", "type": "quantitative"}}},
    {"data": {"name": "rDDp"}, "mark": {"type": "circle", "color": "#f2405a", "size": 24, "opacity": 1},
     "encoding": {"x": {"field": "t", "type": "quantitative"}, "y": {"field": "r", "type": "quantitative"}}},
    {"data": {"name": "rDG"}, "mark": {"type": "square", "color": "#111111", "size": 18, "opacity": 1},
     "encoding": {"x": {"field": "t", "type": "quantitative"}, "y": {"field": "r", "type": "quantitative"}}},
    {"data": {"values": [{}]}, "mark": {"type": "rect", "color": "white"},
     "encoding": {"x": {"datum": -6.5, "type": "quantitative"}, "x2": {"datum": 46.5}, "y": {"datum": 2.224, "type": "quantitative"}, "y2": {"datum": 2.98}}},
    {"data": {"values": [{}]}, "mark": {"type": "text", "text": "//", "fontSize": 12, "fontWeight": "bold", "align": "center", "baseline": "middle"},
     "encoding": {"x": {"datum": -5.1, "type": "quantitative"}, "y": {"datum": 2.6, "type": "quantitative"}}},
    {"data": {"values": [{}]}, "mark": {"type": "text", "text": "//", "fontSize": 12, "fontWeight": "bold", "align": "center", "baseline": "middle"},
     "encoding": {"x": {"datum": 45.2, "type": "quantitative"}, "y": {"datum": 2.6, "type": "quantitative"}}},
    {"data": {"values": [{}]}, "mark": {"type": "text", "text": "I", "fontSize": 11, "align": "left", "baseline": "alphabetic"},
     "encoding": {"x": {"datum": -0.7, "type": "quantitative"}, "y": {"datum": 3.79, "type": "quantitative"}}},
    {"data": {"values": [{}]}, "mark": {"type": "text", "text": "D", "fontSize": 7.5, "align": "left", "baseline": "alphabetic", "dx": 3.2, "dy": 3},
     "encoding": {"x": {"datum": -0.7, "type": "quantitative"}, "y": {"datum": 3.79, "type": "quantitative"}}},
    {"data": {"values": [{}]}, "mark": {"type": "text", "text": "/I", "fontSize": 11, "align": "left", "baseline": "alphabetic", "dx": 8.8},
     "encoding": {"x": {"datum": -0.7, "type": "quantitative"}, "y": {"datum": 3.79, "type": "quantitative"}}},
    {"data": {"values": [{}]}, "mark": {"type": "text", "text": "D'", "fontSize": 7.5, "align": "left", "baseline": "alphabetic", "dx": 15.1, "dy": 3},
     "encoding": {"x": {"datum": -0.7, "type": "quantitative"}, "y": {"datum": 3.79, "type": "quantitative"}}},
    {"data": {"values": [{}]}, "mark": {"type": "text", "text": "I", "fontSize": 11, "align": "left", "baseline": "alphabetic"},
     "encoding": {"x": {"datum": -0.7, "type": "quantitative"}, "y": {"datum": 1.685, "type": "quantitative"}}},
    {"data": {"values": [{}]}, "mark": {"type": "text", "text": "D", "fontSize": 7.5, "align": "left", "baseline": "alphabetic", "dx": 3.2, "dy": 3},
     "encoding": {"x": {"datum": -0.7, "type": "quantitative"}, "y": {"datum": 1.685, "type": "quantitative"}}},
    {"data": {"values": [{}]}, "mark": {"type": "text", "text": "/I", "fontSize": 11, "align": "left", "baseline": "alphabetic", "dx": 8.8},
     "encoding": {"x": {"datum": -0.7, "type": "quantitative"}, "y": {"datum": 1.685, "type": "quantitative"}}},
    {"data": {"values": [{}]}, "mark": {"type": "text", "text": "G", "fontSize": 7.5, "align": "left", "baseline": "alphabetic", "dx": 15.1, "dy": 3},
     "encoding": {"x": {"datum": -0.7, "type": "quantitative"}, "y": {"datum": 1.685, "type": "quantitative"}}}
   ]}
 ], "spacing": 0, "bounds": "flush", "resolve": {"scale": {"color": "independent"}}},
 {"hconcat": [
  {"width": 202, "height": 196,
   "view": {"stroke": null},
   "title": {"text": "(c)", "dx": -32, "offset": -21.5},
   "layer": [
    {"data": {"name": "o1sComp"}, "transform": [{"filter": "datum.c == 'H2O'"}],
     "mark": {"type": "area", "fill": {"gradient": "linear", "x1": 0, "y1": 0, "x2": 0, "y2": 1, "stops": [{"offset": 0, "color": "#f58cb8"}, {"offset": 1, "color": "#fde8f0"}]}, "stroke": "#333", "strokeWidth": 0.6},
     "encoding": {
      "x": {"field": "e", "type": "quantitative", "scale": {"domain": [528.98, 537.07], "reverse": true, "nice": false, "zero": false}, "axis": {"values": [530,531,532,533,534,535,536], "labelExpr": "datum.value % 2 == 0 ? datum.label : ''", "format": "d", "title": "Binding energy/eV", "tickSize": -4, "labelPadding": 6.5, "labelFontSize": 9.5, "titleFontSize": 10, "titlePadding": 2}},
      "y": {"field": "v", "type": "quantitative", "scale": {"domain": [-22.3, 166.7], "range": [196, 7], "nice": false, "zero": false}, "axis": {"ticks": false, "labels": false, "domain": false, "title": "Intensity/a.u.", "titlePadding": 3, "titleFontSize": 10}},
      "y2": {"field": "b"}
     }},
    {"data": {"values": [{}]}, "mark": {"type": "rect", "fillOpacity": 0, "stroke": "black", "strokeWidth": 1},
     "encoding": {"x": {"datum": 528.98, "type": "quantitative"}, "x2": {"datum": 537.07}, "y": {"datum": -22.3, "type": "quantitative"}, "y2": {"datum": 166.7}}},
    {"data": {"name": "o1sComp"}, "transform": [{"filter": "datum.c == 'OCOH'"}],
     "mark": {"type": "area", "fill": {"gradient": "linear", "x1": 0, "y1": 0, "x2": 0, "y2": 1, "stops": [{"offset": 0, "color": "#6c70bc"}, {"offset": 1, "color": "#dcdcf2"}]}, "stroke": "#222", "strokeWidth": 0.8},
     "encoding": {"x": {"field": "e", "type": "quantitative"}, "y": {"field": "v", "type": "quantitative"}, "y2": {"field": "b"}}},
    {"data": {"name": "o1sComp"}, "transform": [{"filter": "datum.c == 'COH'"}],
     "mark": {"type": "area", "fill": {"gradient": "linear", "x1": 0, "y1": 0, "x2": 0, "y2": 1, "stops": [{"offset": 0, "color": "#e8502e"}, {"offset": 1, "color": "#fbe4e0"}]}, "stroke": "#222", "strokeWidth": 0.8},
     "encoding": {"x": {"field": "e", "type": "quantitative"}, "y": {"field": "v", "type": "quantitative"}, "y2": {"field": "b"}}},
    {"data": {"name": "o1sComp"}, "transform": [{"filter": "datum.c == 'CO'"}],
     "mark": {"type": "area", "fill": {"gradient": "linear", "x1": 0, "y1": 0, "x2": 0, "y2": 1, "stops": [{"offset": 0, "color": "#2ec83e"}, {"offset": 1, "color": "#f2fcf2"}]}, "stroke": "#222", "strokeWidth": 0.8},
     "encoding": {"x": {"field": "e", "type": "quantitative"}, "y": {"field": "v", "type": "quantitative"}, "y2": {"field": "b"}}},
    {"data": {"name": "o1s"}, "mark": {"type": "line", "color": "#333", "strokeWidth": 0.9, "strokeDash": [3, 2]},
     "encoding": {"x": {"field": "e", "type": "quantitative"}, "y": {"field": "bg", "type": "quantitative"}}},
    {"data": {"name": "o1s"}, "mark": {"type": "point", "shape": "circle", "filled": false, "color": "black", "size": 20, "strokeWidth": 0.9, "opacity": 1},
     "encoding": {"x": {"field": "e", "type": "quantitative"}, "y": {"field": "env", "type": "quantitative"}}},
    {"data": {"name": "o1s"}, "mark": {"type": "line", "color": "#e8202a", "strokeWidth": 1.6},
     "encoding": {"x": {"field": "e", "type": "quantitative"}, "y": {"field": "env", "type": "quantitative"}}},
    {"data": {"name": "o1sBr"}, "mark": {"type": "rule", "color": "black", "strokeWidth": 1},
     "encoding": {"x": {"field": "e", "type": "quantitative"}, "y": {"field": "y0", "type": "quantitative"}, "y2": {"field": "y1"}}},
    {"data": {"name": "o1sBr"}, "mark": {"type": "rule", "color": "black", "strokeWidth": 1},
     "encoding": {"x": {"field": "e", "type": "quantitative"}, "x2": {"field": "ee"}, "y": {"field": "y1", "type": "quantitative"}}},
    {"data": {"name": "o1sLab"}, "mark": {"type": "text", "fontSize": 11, "align": "center", "baseline": "middle"},
     "encoding": {"x": {"field": "e", "type": "quantitative"}, "y": {"field": "y", "type": "quantitative"}, "text": {"field": "t"},
      "color": {"field": "k", "type": "nominal", "scale": {"domain": ["CO","COH","OCOH","H2O"], "range": ["#2ec83c","#ec6a3c","#7f84c8","#ee2a7b"]}, "legend": null}}},
    {"data": {"values": [{}]}, "mark": {"type": "text", "text": "H₂O", "fontSize": 11, "align": "left", "baseline": "middle", "color": "#ee2a7b"},
     "encoding": {"x": {"datum": 536.47, "type": "quantitative"}, "y": {"datum": 34, "type": "quantitative"}}},
    {"data": {"values": [{}]}, "mark": {"type": "text", "text": "ads", "fontSize": 8, "fontStyle": "italic", "align": "left", "baseline": "middle", "color": "#ee2a7b", "dx": 20, "dy": 3},
     "encoding": {"x": {"datum": 536.47, "type": "quantitative"}, "y": {"datum": 34, "type": "quantitative"}}},
    {"data": {"values": [{}]}, "mark": {"type": "text", "text": "O 1s", "fontSize": 12.5, "fontWeight": "bold", "align": "left", "baseline": "alphabetic", "color": "black"},
     "encoding": {"x": {"datum": 536.76, "type": "quantitative"}, "y": {"datum": 151, "type": "quantitative"}}}
   ]},
  {"data": {"values": [{}]}, "mark": {"type": "text", "text": ""}, "width": 48, "height": 1, "view": {"stroke": null}},
  {"width": 201, "height": 196,
   "view": {"stroke": null},
   "title": {"text": "(d)", "dx": -33, "offset": -24},
   "layer": [
    {"data": {"name": "c1sComp"}, "transform": [{"filter": "datum.c == 'pi'"}],
     "mark": {"type": "area", "fill": {"gradient": "linear", "x1": 0, "y1": 0, "x2": 0, "y2": 1, "stops": [{"offset": 0, "color": "#f0a040"}, {"offset": 1, "color": "#fbe3c0"}]}, "stroke": "#333", "strokeWidth": 0.6},
     "encoding": {
      "x": {"field": "e", "type": "quantitative", "scale": {"domain": [281.05, 293.05], "reverse": true, "nice": false, "zero": false}, "axis": {"values": [282,283,284,285,286,287,288,289,290,291,292], "labelExpr": "datum.value % 2 == 0 ? datum.label : ''", "format": "d", "title": "Binding energy/eV", "tickSize": -4, "labelPadding": 6.5, "labelFontSize": 9.5, "titleFontSize": 10, "titlePadding": 2}},
      "y": {"field": "v", "type": "quantitative", "scale": {"domain": [-18.7, 173.3], "range": [196, 4], "nice": false, "zero": false}, "axis": {"ticks": false, "labels": false, "domain": false, "title": "Intensity/a.u.", "titlePadding": 5, "titleFontSize": 10}},
      "y2": {"field": "b"}
     }},
    {"data": {"values": [{}]}, "mark": {"type": "rect", "fillOpacity": 0, "stroke": "black", "strokeWidth": 1},
     "encoding": {"x": {"datum": 281.05, "type": "quantitative"}, "x2": {"datum": 293.05}, "y": {"datum": -18.7, "type": "quantitative"}, "y2": {"datum": 173.3}}},
    {"data": {"name": "c1sComp"}, "transform": [{"filter": "datum.c == 'COOH'"}],
     "mark": {"type": "area", "fill": {"gradient": "linear", "x1": 0, "y1": 0, "x2": 0, "y2": 1, "stops": [{"offset": 0, "color": "#48d440"}, {"offset": 1, "color": "#d0f5cc"}]}, "stroke": "#333", "strokeWidth": 0.6},
     "encoding": {"x": {"field": "e", "type": "quantitative"}, "y": {"field": "v", "type": "quantitative"}, "y2": {"field": "b"}}},
    {"data": {"name": "c1sComp"}, "transform": [{"filter": "datum.c == 'CO'"}],
     "mark": {"type": "area", "fill": {"gradient": "linear", "x1": 0, "y1": 0, "x2": 0, "y2": 1, "stops": [{"offset": 0, "color": "#e8207c"}, {"offset": 1, "color": "#f8c0d8"}]}, "stroke": "#333", "strokeWidth": 0.6},
     "encoding": {"x": {"field": "e", "type": "quantitative"}, "y": {"field": "v", "type": "quantitative"}, "y2": {"field": "b"}}},
    {"data": {"name": "c1sComp"}, "transform": [{"filter": "datum.c == 'COH'"}],
     "mark": {"type": "area", "fill": {"gradient": "linear", "x1": 0, "y1": 0, "x2": 0, "y2": 1, "stops": [{"offset": 0, "color": "#7b80cc"}, {"offset": 1, "color": "#d8daf2"}]}, "stroke": "#333", "strokeWidth": 0.6},
     "encoding": {"x": {"field": "e", "type": "quantitative"}, "y": {"field": "v", "type": "quantitative"}, "y2": {"field": "b"}}},
    {"data": {"name": "c1sComp"}, "transform": [{"filter": "datum.c == 'sp3'"}],
     "mark": {"type": "area", "fill": {"gradient": "linear", "x1": 0, "y1": 0, "x2": 0, "y2": 1, "stops": [{"offset": 0, "color": "#ee5535"}, {"offset": 1, "color": "#f9d0c0"}]}, "stroke": "#222", "strokeWidth": 0.8},
     "encoding": {"x": {"field": "e", "type": "quantitative"}, "y": {"field": "v", "type": "quantitative"}, "y2": {"field": "b"}}},
    {"data": {"name": "c1sComp"}, "transform": [{"filter": "datum.c == 'Cv'"}],
     "mark": {"type": "area", "fill": {"gradient": "linear", "x1": 0, "y1": 0, "x2": 0, "y2": 1, "stops": [{"offset": 0, "color": "#b08a58"}, {"offset": 1, "color": "#efe3d2"}]}, "stroke": "#222", "strokeWidth": 0.8},
     "encoding": {"x": {"field": "e", "type": "quantitative"}, "y": {"field": "v", "type": "quantitative"}, "y2": {"field": "b"}}},
    {"data": {"name": "c1sComp"}, "transform": [{"filter": "datum.c == 'sp2'"}],
     "mark": {"type": "area", "fill": {"gradient": "linear", "x1": 0, "y1": 0, "x2": 0, "y2": 1, "stops": [{"offset": 0, "color": "#2fcf3f"}, {"offset": 1, "color": "#eafaea"}]}, "stroke": "#222", "strokeWidth": 0.8},
     "encoding": {"x": {"field": "e", "type": "quantitative"}, "y": {"field": "v", "type": "quantitative"}, "y2": {"field": "b"}}},
    {"data": {"name": "c1s"}, "mark": {"type": "line", "color": "#333", "strokeWidth": 0.9, "strokeDash": [3, 2]},
     "encoding": {"x": {"field": "e", "type": "quantitative"}, "y": {"field": "bg", "type": "quantitative"}}},
    {"data": {"name": "c1s"}, "mark": {"type": "line", "color": "black", "strokeWidth": 2.4},
     "encoding": {"x": {"field": "e", "type": "quantitative"}, "y": {"field": "env", "type": "quantitative"}}},
    {"data": {"name": "c1s"}, "mark": {"type": "point", "shape": "circle", "filled": false, "color": "black", "size": 20, "strokeWidth": 1, "opacity": 1},
     "encoding": {"x": {"field": "e", "type": "quantitative"}, "y": {"field": "env", "type": "quantitative"}}},
    {"data": {"name": "c1sBr"}, "mark": {"type": "rule", "color": "black", "strokeWidth": 1},
     "encoding": {"x": {"field": "e", "type": "quantitative"}, "y": {"field": "y0", "type": "quantitative"}, "y2": {"field": "y1"}}},
    {"data": {"name": "c1sBr"}, "mark": {"type": "rule", "color": "black", "strokeWidth": 1},
     "encoding": {"x": {"field": "e", "type": "quantitative"}, "x2": {"field": "ee"}, "y": {"field": "y1", "type": "quantitative"}}},
    {"data": {"name": "c1sLab"}, "mark": {"type": "text", "fontSize": 11, "align": "center", "baseline": "middle"},
     "encoding": {"x": {"field": "e", "type": "quantitative"}, "y": {"field": "y", "type": "quantitative"}, "text": {"field": "t"},
      "color": {"field": "k", "type": "nominal", "scale": {"domain": ["sp2","sp3","COH","COOH","CO","pi","Cv"], "range": ["#33cc44","#ee6040","#8085cc","#4fd840","#ee1a80","#f0b030","#b08850"]}, "legend": null}}},
    {"data": {"values": [{}]}, "mark": {"type": "text", "text": "C", "fontSize": 11, "align": "left", "baseline": "middle", "color": "#b08850"},
     "encoding": {"x": {"datum": 282.9, "type": "quantitative"}, "y": {"datum": 79.6, "type": "quantitative"}}},
    {"data": {"values": [{}]}, "mark": {"type": "text", "text": "V", "fontSize": 8, "align": "left", "baseline": "middle", "color": "#b08850", "dx": 8, "dy": 3},
     "encoding": {"x": {"datum": 282.9, "type": "quantitative"}, "y": {"datum": 79.6, "type": "quantitative"}}},
    {"data": {"values": [{}]}, "mark": {"type": "text", "text": "C 1s", "fontSize": 12.5, "fontWeight": "bold", "align": "left", "baseline": "alphabetic", "color": "black"},
     "encoding": {"x": {"datum": 292.59, "type": "quantitative"}, "y": {"datum": 154.8, "type": "quantitative"}}}
   ]},
  {"data": {"values": [{}]}, "mark": {"type": "text", "text": ""}, "width": 74, "height": 1, "view": {"stroke": null}},
  {"width": 192, "height": 197,
   "view": {"stroke": null},
   "title": {"text": "(e)", "dx": -47, "offset": -32},
   "layer": [
    {"data": {"name": "xps"}, "mark": {"type": "bar", "stroke": "#3c3c3c", "strokeWidth": 0.8},
     "encoding": {
      "x": {"field": "t", "type": "ordinal", "scale": {"paddingInner": 0.25, "paddingOuter": 0.08}, "axis": {"title": "Time t/h", "labelAngle": 0, "tickSize": 3, "labelPadding": 2, "labelFontSize": 10, "titleFontSize": 10, "titlePadding": 4}},
      "y": {"field": "v", "type": "quantitative", "stack": "zero", "scale": {"domain": [0, 12, 40, 100], "range": [197, 169.8, 167.7, 0], "nice": false, "zero": false}, "axis": {"values": [0,5,10,50,60,70,80,90,100], "labelExpr": "indexof([0,10,60,80,100], datum.value) >= 0 ? datum.label : ''", "title": "Content /at.-%", "tickSize": 3, "labelPadding": 2, "labelFontSize": 10, "titleFontSize": 10, "titlePadding": 3}},
      "color": {"field": "comp", "type": "nominal", "scale": {"domain": ["O=C-O","O-C","O=C","CV","C sp3","C sp2"], "range": ["#f2a2f2","#92c8f2","#fafa84","#c2aaf2","#86ec6c","#f8b186"]},
       "legend": {"orient": "none", "legendX": 116, "legendY": 115, "title": null, "symbolType": "square", "symbolSize": 121, "symbolStrokeColor": "#333", "symbolStrokeWidth": 0.8, "symbolOpacity": 1, "labelFontSize": 11.5, "labelFont": "Liberation Sans", "labelColor": "black", "rowPadding": -2, "padding": 3, "fillColor": "white", "strokeColor": "#777", "labelOffset": 6}},
      "order": {"field": "k", "type": "quantitative"}
     }},
    {"data": {"name": "xpsLinks"}, "mark": {"type": "rule", "color": "#555", "strokeWidth": 0.8},
     "encoding": {"x": {"field": "t0", "type": "ordinal", "bandPosition": 1}, "x2": {"field": "t1", "bandPosition": 0}, "y": {"field": "y0", "type": "quantitative"}, "y2": {"field": "y1"}}},
    {"data": {"values": [{}]}, "mark": {"type": "rect", "color": "white"},
     "encoding": {"y": {"datum": 11.8, "type": "quantitative"}, "y2": {"datum": 40.5}}}
   ]}
 ], "spacing": 0, "bounds": "flush", "resolve": {"scale": {"color": "independent"}}}
]
}
